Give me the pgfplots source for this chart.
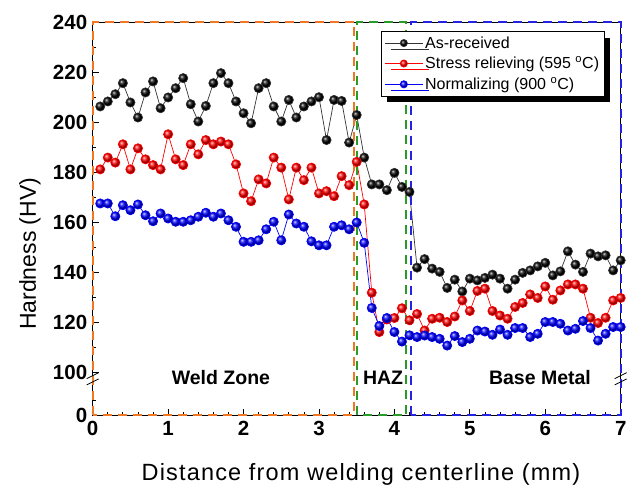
\documentclass[border=0pt]{standalone}
\usepackage{fontspec}
\setmainfont{Liberation Sans}
\usepackage{pgfplots}
\pgfplotsset{compat=1.18}
\usetikzlibrary{shadows,calc}
\definecolor{zorange}{RGB}{240,120,35}
\definecolor{zgreen}{RGB}{40,155,40}
\definecolor{zblue}{RGB}{35,35,225}
\begin{document}
\begin{tikzpicture}
\path[use as bounding box] (-92.7pt,-69pt) rectangle (535.3pt,415pt);
\begin{axis}[
  at={(0,0)}, anchor=south west,
  scale only axis, width=528pt, height=393pt,
  xmin=0, xmax=7, ymin=83.2, ymax=240,
  clip=false,
  axis line style={black, line width=0.9pt},
  xtick={0,1,...,7}, minor x tick num=4,
  ytick={83.2,100,120,140,160,180,200,220,240},
  yticklabels={0,100,120,140,160,180,200,220,240},
  minor ytick={89,110,130,150,170,190,210,230},
  tick align=inside, xtick pos=lower, ytick pos=left,
  major tick length=6pt, minor tick length=3.5pt,
  tick style={black, line width=0.8pt},
  /pgf/number format/assume math mode=true,
  ticklabel style={font=\bfseries\fontsize{20.5}{22}\selectfont},
  xticklabel style={yshift=-3pt},
  yticklabel style={xshift=-2pt},
  xlabel={Distance from welding centerline (mm)},
  ylabel={Hardness (HV)},
  x label style={font=\fontsize{23.5}{25}\selectfont\addfontfeature{LetterSpace=5}, at={(axis description cs:0.508,-0.1654)}, anchor=base},
  y label style={font=\fontsize{23}{25}\selectfont, at={(axis description cs:-0.119,0.41)}, anchor=center},
  legend style={at={(rel axis cs:0.546,0.977)}, anchor=north west,
    draw=black, line width=1pt, fill=white,
    font=\fontsize{16}{18}\selectfont,
    drop shadow={shadow xshift=6pt, shadow yshift=-6pt, fill=black, opacity=1},
    inner sep=3pt, row sep=3pt},
  legend cell align=left,
  legend image code/.code={\draw[mark repeat=2, mark phase=2, mark size=3.6pt, #1] plot coordinates {(0pt,0pt) (19pt,0pt) (38pt,0pt)};},
]
\addplot[black!80, line width=0.7pt, mark=ball, mark size=4.6pt, mark options={ball color=black}] coordinates {
(0.1,206.3)(0.2,208.3)(0.3,211.2)(0.4,215.6)(0.5,207.9)(0.6,201.9)(0.7,211.9)(0.8,216.3)(0.9,205.6)(1.0,209.9)
(1.1,213.6)(1.2,217.6)(1.3,207.2)(1.4,200.3)(1.5,206.5)(1.6,215.6)(1.7,219.6)(1.8,215.6)(1.9,208.3)(2.0,203.6)
(2.1,199.6)(2.2,213.6)(2.3,215.6)(2.4,206.3)(2.5,200.3)(2.6,208.9)(2.7,201.9)(2.8,206.3)(2.9,208.3)(3.0,210.0)
(3.1,192.9)(3.2,208.9)(3.3,208.5)(3.4,191.9)(3.5,202.9)(3.6,185.9)(3.7,175.2)(3.8,175.2)(3.9,172.9)(4.0,179.8)
(4.1,174.2)(4.2,172.2)(4.3,142.0)(4.4,145.4)(4.5,141.6)(4.6,140.3)(4.7,133.9)(4.8,137.2)(4.9,132.5)(5.0,137.6)
(5.1,136.9)(5.2,137.9)(5.3,139.2)(5.4,137.6)(5.5,133.6)(5.6,137.2)(5.7,139.9)(5.8,140.9)(5.9,142.5)(6.0,143.9)
(6.1,138.9)(6.2,140.5)(6.3,148.5)(6.4,143.2)(6.5,140.3)(6.6,147.6)(6.7,146.5)(6.8,146.9)(6.9,140.9)(7.0,144.9)
};
\addlegendentry{As-received}
\addplot[red, line width=0.7pt, mark=ball, mark size=4.6pt, mark options={ball color=red}] coordinates {
(0.1,181.2)(0.2,185.9)(0.3,183.9)(0.4,191.2)(0.5,181.2)(0.6,189.6)(0.7,185.2)(0.8,182.9)(0.9,181.2)(1.0,195.2)
(1.1,185.2)(1.2,182.9)(1.3,191.2)(1.4,187.2)(1.5,192.9)(1.6,191.2)(1.7,192.3)(1.8,191.2)(1.9,183.2)(2.0,171.6)
(2.1,168.5)(2.2,177.2)(2.3,175.6)(2.4,185.9)(2.5,181.9)(2.6,169.2)(2.7,181.9)(2.8,176.9)(2.9,181.9)(3.0,171.6)
(3.1,172.5)(3.2,170.5)(3.3,178.5)(3.4,174.9)(3.5,184.2)(3.6,167.2)(3.7,132.0)(3.8,116.3)(3.9,121.3)(4.0,121.9)
(4.1,125.8)(4.2,121.0)(4.3,123.5)(4.4,116.9)(4.5,121.6)(4.6,122.0)(4.7,120.3)(4.8,122.5)(4.9,128.9)(5.0,124.7)
(5.1,132.7)(5.2,133.6)(5.3,124.7)(5.4,122.9)(5.5,121.6)(5.6,126.3)(5.7,127.9)(5.8,131.3)(5.9,129.9)(6.0,134.5)
(6.1,129.2)(6.2,132.9)(6.3,135.3)(6.4,135.3)(6.5,133.6)(6.6,122.0)(6.7,119.9)(6.8,122.0)(6.9,128.9)(7.0,129.9)
};
\addlegendentry{Stress relieving (595 \textsuperscript{o}C)}
\addplot[blue, line width=0.7pt, mark=ball, mark size=4.6pt, mark options={ball color=blue}] coordinates {
(0.1,167.6)(0.2,167.6)(0.3,162.5)(0.4,166.9)(0.5,164.9)(0.6,167.2)(0.7,162.9)(0.8,160.5)(0.9,163.6)(1.0,161.6)
(1.1,160.3)(1.2,160.3)(1.3,160.9)(1.4,162.3)(1.5,163.9)(1.6,162.3)(1.7,163.6)(1.8,160.9)(1.9,158.3)(2.0,152.3)
(2.1,152.3)(2.2,152.9)(2.3,157.3)(2.4,160.3)(2.5,152.9)(2.6,163.2)(2.7,159.6)(2.8,158.3)(2.9,152.5)(3.0,150.9)
(3.1,150.9)(3.2,158.3)(3.3,158.9)(3.4,157.3)(3.5,160.0)(3.6,151.9)(3.7,125.9)(3.8,118.7)(3.9,121.9)(4.0,116.3)
(4.1,112.5)(4.2,115.0)(4.3,114.3)(4.4,114.9)(4.5,114.3)(4.6,113.6)(4.7,110.9)(4.8,114.7)(4.9,112.3)(5.0,113.6)
(5.1,116.9)(5.2,116.5)(5.3,115.2)(5.4,117.3)(5.5,115.2)(5.6,117.9)(5.7,117.9)(5.8,114.3)(5.9,115.6)(6.0,120.3)
(6.1,120.3)(6.2,119.6)(6.3,116.9)(6.4,117.6)(6.5,120.7)(6.6,117.9)(6.7,112.9)(6.8,115.6)(6.9,118.3)(7.0,118.3)
};
\addlegendentry{Normalizing (900 \textsuperscript{o}C)}
% zone boxes
\draw[zorange, line width=2pt, dash pattern=on 9pt off 6pt] (axis cs:0,83.2) rectangle (axis cs:3.47,240);
\draw[zgreen, line width=2pt, dash pattern=on 9pt off 6pt] (axis cs:3.51,83.2) rectangle (axis cs:4.16,240);
\draw[zblue, line width=2pt, dash pattern=on 9pt off 6pt] (axis cs:4.22,83.2) rectangle (axis cs:7,240);
% zone labels
\node[font=\bfseries\fontsize{19.5}{20}\selectfont] at (axis cs:1.70,98) {Weld Zone};
\node[font=\bfseries\fontsize{19.5}{20}\selectfont] at (axis cs:3.85,98) {HAZ};
\node[font=\bfseries\fontsize{19.5}{20}\selectfont] at (axis cs:5.93,98) {Base Metal};
% axis breaks
\fill[white] ($(axis cs:0,96.4)+(-2pt,0)$) rectangle ($(axis cs:0,98.9)+(2pt,0)$);
\draw[black, line width=0.8pt] ($(axis cs:0,96.4)+(-6pt,-3pt)$) -- ($(axis cs:0,96.4)+(6pt,3pt)$);
\draw[black, line width=0.8pt] ($(axis cs:0,98.9)+(-6pt,-3pt)$) -- ($(axis cs:0,98.9)+(6pt,3pt)$);
\fill[white] ($(axis cs:7,96.4)+(-2pt,0)$) rectangle ($(axis cs:7,98.9)+(2pt,0)$);
\draw[black, line width=0.8pt] ($(axis cs:7,96.4)+(-6pt,-3pt)$) -- ($(axis cs:7,96.4)+(6pt,3pt)$);
\draw[black, line width=0.8pt] ($(axis cs:7,98.9)+(-6pt,-3pt)$) -- ($(axis cs:7,98.9)+(6pt,3pt)$);
\end{axis}
\end{tikzpicture}
\end{document}
